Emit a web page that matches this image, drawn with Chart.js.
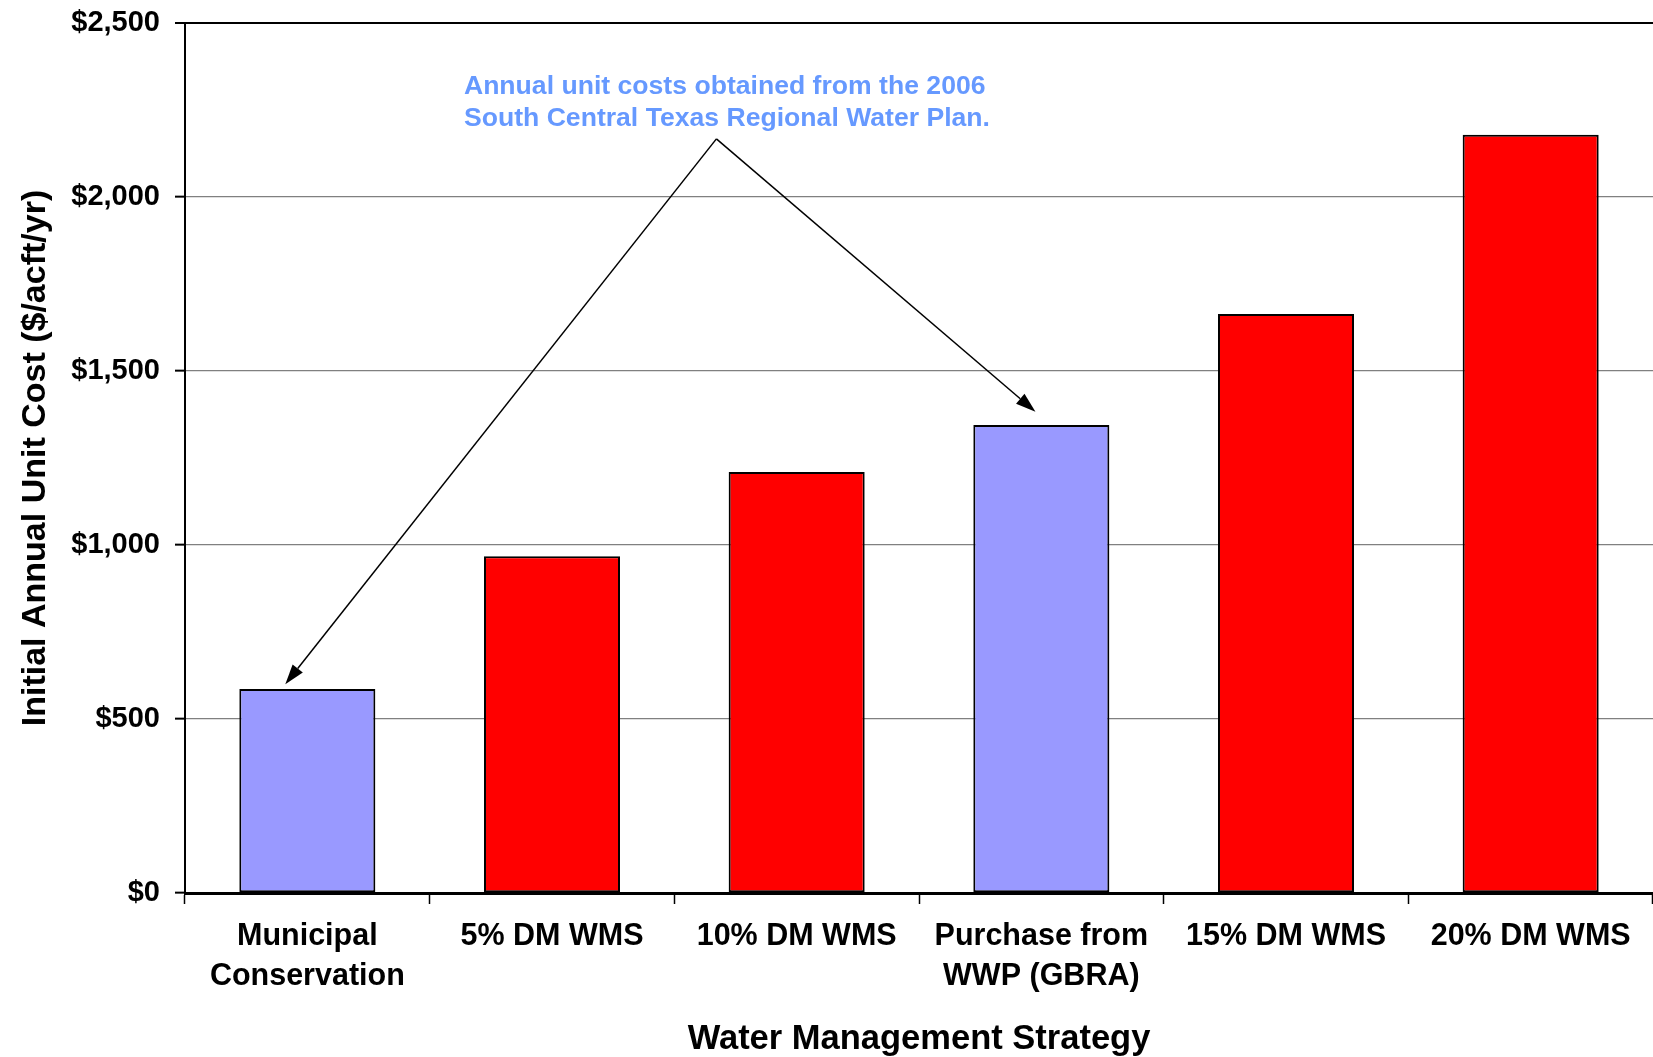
<!DOCTYPE html>
<html>
<head>
<meta charset="utf-8">
<script src="https://cdn.jsdelivr.net/npm/chart.js@4/dist/chart.umd.min.js"></script>
<style>
  html, body { margin: 0; padding: 0; background: #fff; }
  #wrap { width: 1653px; height: 1057px; }
</style>
</head>
<body>
<div id="wrap"><canvas id="c" width="1653" height="1057"></canvas></div>
<script>
// Water management strategies and their initial annual unit cost ($/acft/yr)
const strategies = [
  ['Municipal', 'Conservation'],
  '5% DM WMS',
  '10% DM WMS',
  ['Purchase from', 'WWP (GBRA)'],
  '15% DM WMS',
  '20% DM WMS'
];
const unitCosts = [586, 968, 1210, 1345, 1664, 2179];
// Which costs come from the 2006 regional water plan
const fromRegionalPlan = [true, false, false, true, false, false];
const yTicks = [0, 500, 1000, 1500, 2000, 2500];

const noteLines = [
  'Annual unit costs obtained from the 2006',
  'South Central Texas Regional Water Plan.'
];

const FONT = '"Liberation Sans", Arial, Helvetica, sans-serif';
const PLAN_COLOR = '#9999ff';
const DM_COLOR = '#ff0000';

// Callout text with two arrows pointing at the regional-plan bars
const calloutPlugin = {
  id: 'callout',
  afterDatasetsDraw(chart) {
    const { ctx, scales: { x, y } } = chart;
    const apex = { x: x.getPixelForValue(1.672), y: y.getPixelForValue(2167) };
    const tips = [
      { x: x.getPixelForValue(-0.09), y: y.getPixelForValue(600) },
      { x: x.getPixelForValue(2.976), y: y.getPixelForValue(1383) }
    ];
    ctx.save();
    ctx.strokeStyle = '#000';
    ctx.fillStyle = '#000';
    ctx.lineWidth = 1.5;
    tips.forEach(t => {
      const ang = Math.atan2(t.y - apex.y, t.x - apex.x);
      const headLen = 20, headHalf = 6.5;
      const bx = t.x - headLen * Math.cos(ang);
      const by = t.y - headLen * Math.sin(ang);
      ctx.beginPath();
      ctx.moveTo(apex.x, apex.y);
      ctx.lineTo(bx, by);
      ctx.stroke();
      ctx.beginPath();
      ctx.moveTo(t.x, t.y);
      ctx.lineTo(bx + headHalf * Math.sin(ang), by - headHalf * Math.cos(ang));
      ctx.lineTo(bx - headHalf * Math.sin(ang), by + headHalf * Math.cos(ang));
      ctx.closePath();
      ctx.fill();
    });
    ctx.fillStyle = '#6699ff';
    ctx.font = 'bold 26.6px ' + FONT;
    ctx.textAlign = 'left';
    ctx.textBaseline = 'middle';
    const tx = x.getPixelForValue(0.64);
    ctx.fillText(noteLines[0], tx, y.getPixelForValue(2316));
    ctx.fillText(noteLines[1], tx, y.getPixelForValue(2225));
    ctx.restore();
  }
};

new Chart(document.getElementById('c'), {
  type: 'bar',
  data: {
    labels: strategies,
    datasets: [{
      data: unitCosts,
      backgroundColor: fromRegionalPlan.map(p => p ? PLAN_COLOR : DM_COLOR),
      borderColor: '#000',
      borderWidth: 2,
      borderSkipped: false,
      categoryPercentage: 1,
      barPercentage: 0.556
    }]
  },
  options: {
    responsive: false,
    animation: false,
    events: [],
    layout: { padding: { top: 23, left: 0, right: -3, bottom: 0 } },
    plugins: { legend: { display: false }, tooltip: { enabled: false } },
    scales: {
      x: {
        afterFit(scale) { scale.height = 164; },
        grid: {
          display: true,
          drawOnChartArea: false,
          drawTicks: true,
          tickLength: 11,
          tickColor: '#000',
          tickWidth: 1.5,
          offset: true
        },
        border: { display: true, color: '#000', width: 3 },
        ticks: {
          color: '#000',
          font: { family: FONT, size: 30.5, weight: 'bold', lineHeight: 1.3 },
          padding: 13,
          maxRotation: 0,
          autoSkip: false
        },
        title: {
          display: true,
          text: 'Water Management Strategy',
          color: '#000',
          font: { family: FONT, size: 34.5, weight: 'bold', lineHeight: 1.0 },
          padding: { top: 0, bottom: 0 }
        }
      },
      y: {
        min: 0,
        max: 2500,
        afterFit(scale) {
          scale.width = 185;
          scale.paddingTop = 0;
          scale.paddingBottom = 0;
        },
        afterBuildTicks(scale) { scale.ticks = yTicks.map(v => ({ value: v })); },
        grid: {
          color: c => c.tick && c.tick.value === 2500 ? '#000' : '#808080',
          lineWidth: c => c.tick && c.tick.value === 2500 ? 2 : 1.3,
          drawTicks: true,
          tickLength: 10,
          tickColor: '#000',
          tickWidth: 2
        },
        border: { display: true, color: '#000', width: 2 },
        ticks: {
          color: '#000',
          font: { family: FONT, size: 29, weight: 'bold' },
          padding: 15,
          callback: v => '$' + Number(v).toLocaleString('en-US')
        },
        title: {
          display: true,
          text: 'Initial Annual Unit Cost ($/acft/yr)',
          color: '#000',
          font: { family: FONT, size: 34, weight: 'bold', lineHeight: 1.2 },
          padding: { top: 15, bottom: 0 }
        }
      }
    }
  },
  plugins: [calloutPlugin]
});
</script>
</body>
</html>
